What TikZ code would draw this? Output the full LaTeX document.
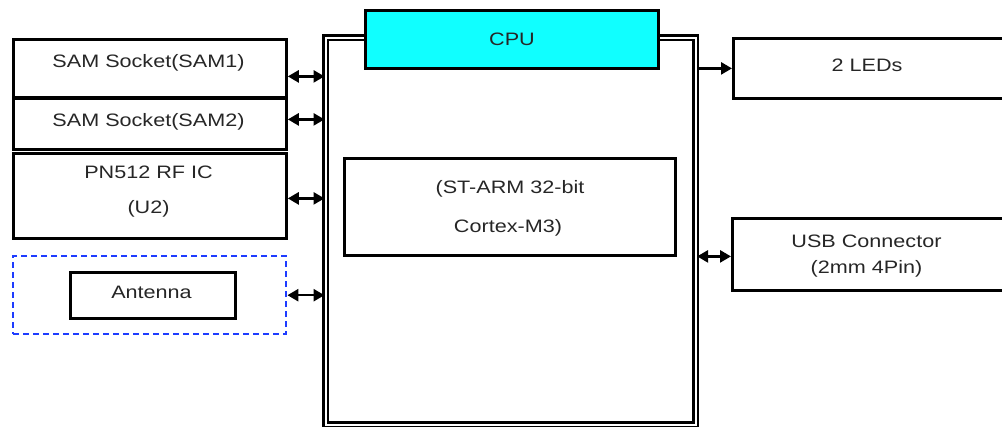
\documentclass[tikz,border=0pt]{standalone}
\usepackage{fontspec}
\setmainfont{Liberation Sans}[FakeStretch=1.2]
\usetikzlibrary{arrows.meta}
\definecolor{cpucyan}{RGB}{16,255,255}
\definecolor{dashblue}{RGB}{30,60,255}
\begin{document}
\begin{tikzpicture}[x=1pt,y=-1pt,
  box/.style={draw, line width=2.8pt, anchor=north west, inner sep=0pt},
  txt/.style={inner sep=0pt, text height=12.9pt, text depth=0pt, text=black!85,
    font={\fontsize{18}{22}\selectfont}},
  tip/.style={-{Triangle[length=11pt,width=12pt]}, line width=2.6pt},
  dtip/.style={{Triangle[length=11pt,width=12pt]}-{Triangle[length=11pt,width=12pt]}, line width=2.6pt}]
\useasboundingbox (0,0) rectangle (1002,427);
% main CPU block (double border)
\node[draw, line width=2.6pt, double, double distance=1.6pt, anchor=north west, inner sep=0pt,
  minimum width=370pt, minimum height=387pt] (main) at (324.5,36.5) {};
\node[box, minimum width=331pt, minimum height=97pt] (arm) at (343,157) {};
\node[txt] (arm1) at (510,187) {(ST-ARM 32-bit};
\node[txt] (arm2) at (508,226) {Cortex-M3)};
\node[box, fill=cpucyan, line width=3pt, minimum width=293pt, minimum height=58pt] (cpu) at (364,9) {};
\node[txt] (cput) at (cpu.center) {CPU};
% left blocks
\node[box, minimum width=273pt, minimum height=58pt] (sam1) at (12,38) {};
\node[txt] (sam1t) at (148.5,61.5) {SAM Socket(SAM1)};
\node[box, minimum width=273pt, minimum height=51pt] (sam2) at (12,97) {};
\node[txt] (sam2t) at (148.5,120) {SAM Socket(SAM2)};
\node[box, minimum width=273pt, minimum height=85pt] (pn) at (12,152) {};
\node[txt] (pn1) at (148.5,172.5) {PN512 RF IC};
\node[txt] (pn2) at (148.5,207) {(U2)};
\node[draw=dashblue, dash pattern=on 6pt off 4pt, line width=2.4pt, anchor=north west, inner sep=0pt,
  minimum width=273pt, minimum height=78pt] (antgrp) at (12,255) {};
\node[box, line width=2.6pt, minimum width=165pt, minimum height=46pt] (ant) at (69,271) {};
\node[txt] (antt) at (151.5,292.5) {Antenna};
% right blocks
\node[box, minimum width=270pt, minimum height=60pt] (led) at (732,37) {};
\node[txt] (ledt) at (867,65.5) {2 LEDs};
\node[box, minimum width=271pt, minimum height=72pt] (usb) at (731,217) {};
\node[txt] (usb1) at (866.5,241) {USB Connector};
\node[txt] (usb2) at (866.5,267) {(2mm 4Pin)};
% connectors
\draw[dtip] ([yshift=-8pt]sam1.east) -- ([yshift=-8pt]sam1.east -| main.west);
\draw[dtip] ([yshift=4.5pt]sam2.east) -- ([yshift=4.5pt]sam2.east -| main.west);
\draw[dtip] ([yshift=-2.5pt]pn.east) -- ([yshift=-2.5pt]pn.east -| main.west);
\draw[dtip] (antgrp.east) -- (antgrp.east -| main.west);
\draw[tip] (led.west -| main.east) -- (led.west);
\draw[dtip] ([yshift=-2pt]usb.west -| main.east) -- ([yshift=-2pt]usb.west);
\end{tikzpicture}
\end{document}
